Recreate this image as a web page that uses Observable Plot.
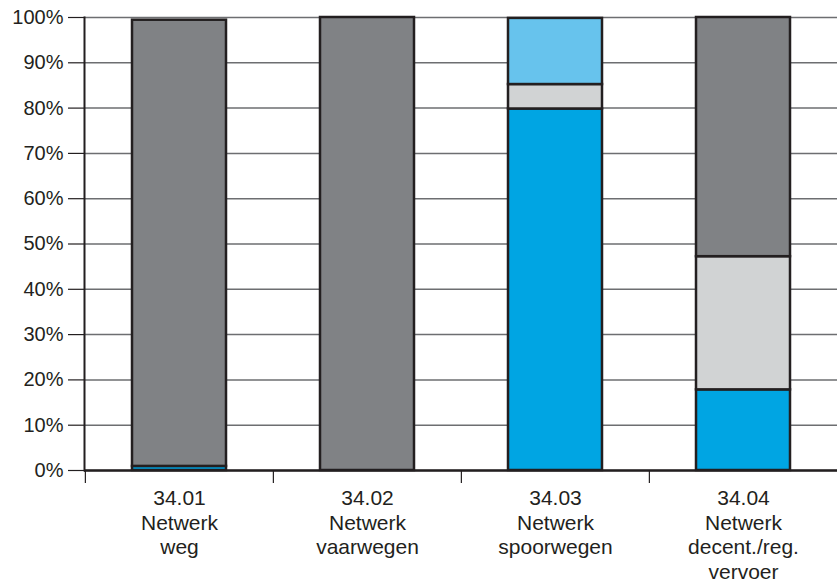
<!DOCTYPE html>
<html>
<head>
<meta charset="utf-8">
<script src="https://cdn.jsdelivr.net/npm/d3@7"></script>
<script src="https://cdn.jsdelivr.net/npm/@observablehq/plot@0.6"></script>
<style>
  html, body { margin: 0; padding: 0; background: #fff; overflow: hidden; }
  #chart svg { display: block; }
</style>
</head>
<body>
<div id="chart"></div>
<script>
// Categories (x axis labels, multi-line)
const categories = ["34.01\nNetwerk\nweg", "34.02\nNetwerk\nvaarwegen", "34.03\nNetwerk\nspoorwegen", "34.04\nNetwerk\ndecent./reg.\nvervoer"];
// Stack segments, bottom to top
const seriesNames = ["Blauw", "Lichtgrijs", "Lichtblauw", "Donkergrijs"];
const seriesColors = ["#00a5e3", "#d1d3d4", "#67c3ed", "#808285"];
// Percentages per series, one per category
const blauw       = [0.9, 0, 79.8, 17.8];
const lichtgrijs  = [0, 0, 5.4, 29.4];
const lichtblauw  = [0, 0, 14.6, 0];
const donkergrijs = [98.5, 100, 0, 52.8];
const yTicks = [0, 10, 20, 30, 40, 50, 60, 70, 80, 90, 100];

const seriesValues = [blauw, lichtgrijs, lichtblauw, donkergrijs];
const rows = [];
seriesNames.forEach((s, i) => {
  categories.forEach((c, j) => {
    rows.push({category: c, series: s, value: seriesValues[i][j]});
  });
});

const W = 837, H = 584;
const mL = 84, mR = 0;
const step = (W - mL - mR) / categories.length;

const chart = Plot.plot({
  width: W,
  height: H,
  marginLeft: mL,
  marginRight: mR,
  marginTop: 17,
  marginBottom: 114,
  style: {fontFamily: "Liberation Sans, Arial, Helvetica, sans-serif", background: "#fff", color: "#231f20"},
  x: {domain: categories, paddingInner: 0.5, paddingOuter: 0.25, axis: null, label: null},
  y: {domain: [0, 100], axis: null, label: null},
  color: {domain: seriesNames, range: seriesColors},
  marks: [
    Plot.gridY(yTicks, {stroke: "#6d6e71", strokeOpacity: 1, strokeWidth: 1.5}),
    Plot.axisY(yTicks, {
      tickSize: 16, tickPadding: 5, stroke: "#231f20", strokeWidth: 1.2,
      tickFormat: d => d + "%", fontSize: 20, fill: "#231f20", label: null
    }),
    Plot.barY(rows.filter(d => d.value > 0), Plot.stackY({
      x: "category", y: "value", fill: "series",
      order: seriesNames,
      stroke: "#231f20", strokeWidth: 2.5
    })),
    Plot.ruleY([0], {stroke: "#231f20", strokeWidth: 2.5}),
    Plot.frame({anchor: "left", stroke: "#231f20", strokeWidth: 2}),
    Plot.axisX({
      tickSize: 13, stroke: "#231f20", strokeWidth: 1.2, tickFormat: () => "",
      dx: -step / 2, label: null
    }),
    Plot.axisX({
      tickSize: 0, tickPadding: 17, lineHeight: 1.17, label: null,
      fontSize: 21, fill: "#231f20"
    })
  ]
});
document.getElementById("chart").appendChild(chart);
</script>
</body>
</html>
